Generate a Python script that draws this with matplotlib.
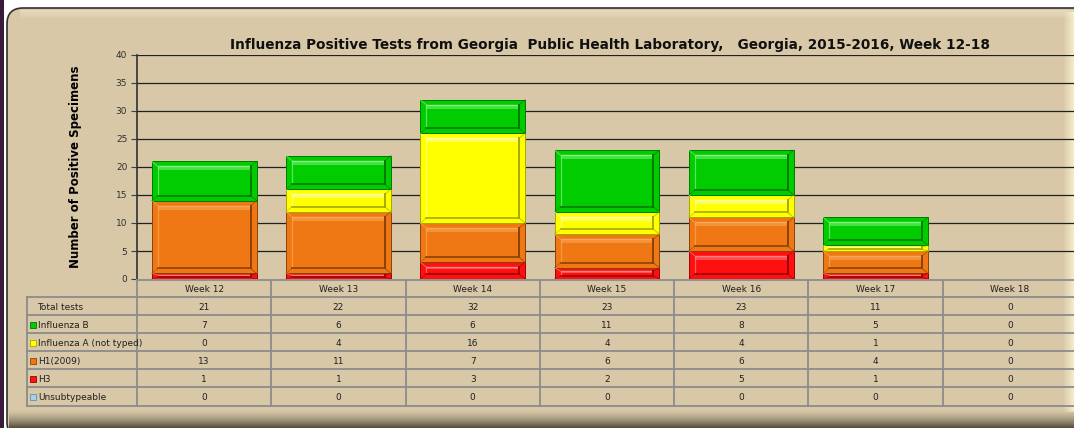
import numpy as np
import matplotlib
matplotlib.use("Agg")
import matplotlib.pyplot as plt
from matplotlib.patches import FancyBboxPatch, Rectangle

weeks = ["Week 12", "Week 13", "Week 14", "Week 15", "Week 16", "Week 17", "Week 18"]
total_tests = [21, 22, 32, 23, 23, 11, 0]
flu_b = [7, 6, 6, 11, 8, 5, 0]
flu_a_nt = [0, 4, 16, 4, 4, 1, 0]
h1_2009 = [13, 11, 7, 6, 6, 4, 0]
h3 = [1, 1, 3, 2, 5, 1, 0]
unsub = [0, 0, 0, 0, 0, 0, 0]

row_labels = ["Total tests", "Influenza B", "Influenza A (not typed)", "H1(2009)", "H3", "Unsubtypeable"]
title = "Influenza Positive Tests from Georgia  Public Health Laboratory,   Georgia, 2015-2016, Week 12-18"

# base, light, dark
pal = {
    "unsub": ("#A8D0E8", "#D8ECF8", "#6890A8"),
    "h3": ("#FF1010", "#FF8080", "#A00000"),
    "h1": ("#F07814", "#F8A858", "#8A4206"),
    "a": ("#FFFF00", "#FFFFA8", "#A8A800"),
    "b": ("#00CC00", "#80F080", "#007A00"),
}
BG = "#D8C8A8"

W, H = 1074, 428
fig = plt.figure(figsize=(W / 100, H / 100), dpi=100)
fig.patch.set_facecolor("white")


def fx(px):
    return px / W


def fy(py):
    return 1 - py / H


# panel
bg = fig.add_axes([0, 0, 1, 1])
bg.set_xlim(0, W)
bg.set_ylim(H, 0)
bg.axis("off")
bg.add_patch(FancyBboxPatch((7, 8), 1100, 430, boxstyle="round,pad=0,rounding_size=16",
                            fc=BG, ec="#303030", lw=1.2))
# top highlight
for i in range(8):
    bg.add_patch(Rectangle((20, 10 + i), 1060, 1, fc="#FFF8E0", ec="none", alpha=0.35 - i * 0.04))
# right highlight
for i in range(10):
    bg.add_patch(Rectangle((1064 + i, 12), 1, 400, fc="#FFF8D8", ec="none", alpha=0.1 + i * 0.07))
# bottom shading
for i in range(18):
    a = min(0.85, 0.02 + (i / 17.0) ** 1.4 * 0.8)
    bg.add_patch(Rectangle((9, 410 + i), 1070, 1, fc="#3C3626", ec="none", alpha=a))
bg.add_patch(Rectangle((0, 0), 4, H, fc="#3A1A3A", ec="none"))

# plot area
x_left, x_right, y_top, y_bot = 137, 1077, 55, 279
ax = fig.add_axes([fx(x_left), fy(y_bot), fx(x_right - x_left), fy(y_top) - fy(y_bot)])
ax.set_facecolor("none")
ax.set_xlim(-0.5, len(weeks) - 0.5)
ax.set_ylim(0, 40)
ax.set_yticks(range(0, 41, 5))
ax.tick_params(axis="y", labelsize=6.5, length=4, width=0.8, color="#404040", pad=3,
               labelcolor="#303030")
ax.set_xticks([])
for s in ["top", "right", "bottom"]:
    ax.spines[s].set_visible(False)
ax.spines["left"].set_color("#303030")
ax.spines["left"].set_linewidth(1.2)
for v in range(5, 41, 5):
    ax.axhline(v, color="#202020", lw=0.9, zorder=1)
ax.set_ylabel("Number of Positive Specimens", fontsize=8.5, fontweight="bold", labelpad=24)

x = np.arange(len(weeks))
bw = 0.78
px_x = (x_right - x_left) / len(weeks)
px_y = (y_bot - y_top) / 40.0


def bevel(ax, x0, y0, w, h, cols):
    base, light, dark = cols
    ix = min(6 / px_x, w * 0.2)
    iy = min(5 / px_y, h * 0.3)
    x1, y1 = x0 + w, y0 + h
    a0, b0, a1, b1 = x0 + ix, y0 + iy, x1 - ix, y1 - iy
    # soft light strip at the top of the inner face
    sh = min(4 / px_y, (b1 - b0) * 0.3)
    ax.add_patch(Rectangle((a0, b1 - sh), a1 - a0, sh, fc=light, ec="none", alpha=0.55, zorder=5))
    # inner outlines: light top/left, dark bottom/right
    ax.plot([a0, a1], [b1, b1], color=light, lw=1.0, zorder=6, solid_capstyle="butt")
    ax.plot([a0, a0], [b0, b1], color=light, lw=0.9, zorder=6, alpha=0.7)
    ax.plot([a0, a1], [b0, b0], color=dark, lw=1.2, zorder=6)
    ax.plot([a1, a1], [b0, b1], color=dark, lw=1.4, zorder=6)
    # corner lines
    ax.plot([x0, a0], [y1, b1], color=light, lw=0.6, zorder=6, alpha=0.8)
    ax.plot([x1, a1], [y1, b1], color=dark, lw=0.6, zorder=6, alpha=0.7)
    ax.plot([x0, a0], [y0, b0], color=dark, lw=0.6, zorder=6, alpha=0.5)
    ax.plot([x1, a1], [y0, b0], color=dark, lw=0.6, zorder=6, alpha=0.8)


bottom = np.zeros(len(weeks))
for key, vals in [("unsub", unsub), ("h3", h3), ("h1", h1_2009), ("a", flu_a_nt), ("b", flu_b)]:
    vals = np.array(vals, dtype=float)
    bars = ax.bar(x, vals, bw, bottom=bottom, color=pal[key][0], edgecolor=pal[key][2],
                  linewidth=0.7, zorder=3)
    for b, v in zip(bars, vals):
        if v > 0:
            bevel(ax, b.get_x(), b.get_y(), b.get_width(), b.get_height(), pal[key])
    bottom += vals

# title
fig.text(fx(610), fy(45), title, ha="center", va="center", fontsize=9.8, fontweight="bold",
         family="DejaVu Sans", color="#101010")

# data table
tab_left = 27
t = fig.add_axes([fx(tab_left), fy(406), fx(x_right - tab_left), fy(280) - fy(406)])
t.set_xlim(tab_left, x_right)
t.set_ylim(406, 280)
t.axis("off")
row_y = [280, 297, 315, 333, 351, 369, 387, 406]
gc = "#8C8C8C"
col_edges = [x_left + i * px_x for i in range(len(weeks) + 1)]
for i, yy in enumerate(row_y):
    xs = x_left if i == 0 else tab_left
    t.plot([xs, x_right], [yy, yy], color=gc, lw=1.3, clip_on=False)
for xe in col_edges:
    t.plot([xe, xe], [280, 406], color=gc, lw=1.3, clip_on=False)
t.plot([tab_left, tab_left], [297, 406], color=gc, lw=1.3, clip_on=False)

fs = 6.5
for i, wk in enumerate(weeks):
    t.text((col_edges[i] + col_edges[i + 1]) / 2, (row_y[0] + row_y[1]) / 2 + 1, wk,
           ha="center", va="center", fontsize=fs, color="#202020")
rows = [total_tests, flu_b, flu_a_nt, h1_2009, h3, unsub]
keys = [None, "b", "a", "h1", "h3", "unsub"]
for r, (lab, vals, k) in enumerate(zip(row_labels, rows, keys)):
    yc = (row_y[r + 1] + row_y[r + 2]) / 2 + 1
    if k is None:
        t.text(tab_left + 10, yc, lab, ha="left", va="center", fontsize=fs, color="#202020")
    else:
        t.add_patch(Rectangle((tab_left + 3, yc - 3.5), 6, 6, fc=pal[k][0], ec=pal[k][2],
                              lw=0.6, clip_on=False))
        t.text(tab_left + 11, yc, lab, ha="left", va="center", fontsize=fs, color="#202020")
    for i, v in enumerate(vals):
        t.text((col_edges[i] + col_edges[i + 1]) / 2, yc, str(v), ha="center", va="center",
               fontsize=fs, color="#202020")

fig.savefig("out.png", dpi=100, facecolor=fig.get_facecolor())
